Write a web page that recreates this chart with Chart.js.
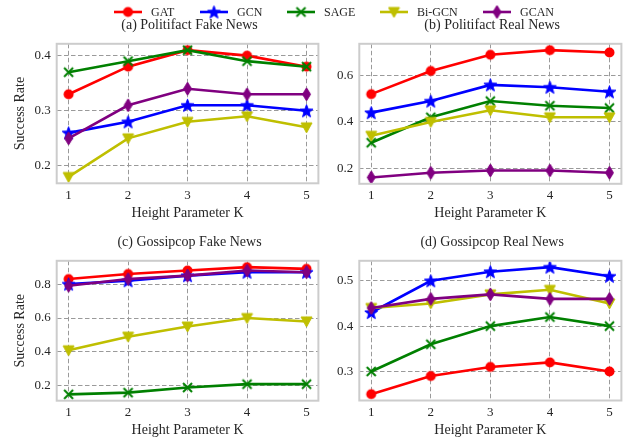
<!DOCTYPE html>
<html><head><meta charset="utf-8">
<script src="https://cdn.jsdelivr.net/npm/chart.js@4.4.0/dist/chart.umd.min.js"></script>
<style>
html,body{margin:0;padding:0;background:#fff;}
body{width:629px;height:442px;position:relative;overflow:hidden;font-family:"Liberation Serif","Times New Roman",serif;color:#262626;}
canvas.cv{position:absolute;}
.ttl{position:absolute;font-size:14px;white-space:nowrap;transform:translate(-50%,-50%);line-height:1;}
.legtxt{position:absolute;font-size:12px;white-space:nowrap;line-height:1;transform:translateY(-50%);}
.legmk{position:absolute;}
</style></head><body>
<script>
// ---------- data ----------
const kValues = [1, 2, 3, 4, 5];
const xTicks = [1, 2, 3, 4, 5];
const seriesNames = ['GAT', 'GCN', 'SAGE', 'Bi-GCN', 'GCAN'];

// (a) Politifact Fake News
const pfFakeGAT   = [0.33, 0.38, 0.41, 0.40, 0.38];
const pfFakeGCN   = [0.26, 0.28, 0.31, 0.31, 0.30];
const pfFakeSAGE  = [0.37, 0.39, 0.41, 0.39, 0.38];
const pfFakeBiGCN = [0.18, 0.25, 0.28, 0.29, 0.27];
const pfFakeGCAN  = [0.25, 0.31, 0.34, 0.33, 0.33];
const yTicksA = [0.2, 0.3, 0.4];

// (b) Politifact Real News
const pfRealGAT   = [0.52, 0.62, 0.69, 0.71, 0.70];
const pfRealGCN   = [0.44, 0.49, 0.56, 0.55, 0.53];
const pfRealSAGE  = [0.31, 0.42, 0.49, 0.47, 0.46];
const pfRealBiGCN = [0.34, 0.40, 0.45, 0.42, 0.42];
const pfRealGCAN  = [0.16, 0.18, 0.19, 0.19, 0.18];
const yTicksB = [0.2, 0.4, 0.6];

// (c) Gossipcop Fake News
const gcFakeGAT   = [0.83, 0.86, 0.88, 0.90, 0.89];
const gcFakeGCN   = [0.80, 0.82, 0.85, 0.87, 0.87];
const gcFakeSAGE  = [0.15, 0.16, 0.19, 0.21, 0.21];
const gcFakeBiGCN = [0.41, 0.49, 0.55, 0.60, 0.58];
const gcFakeGCAN  = [0.79, 0.83, 0.85, 0.88, 0.87];
const yTicksC = [0.2, 0.4, 0.6, 0.8];

// (d) Gossipcop Real News
const gcRealGAT   = [0.25, 0.29, 0.31, 0.32, 0.30];
const gcRealGCN   = [0.43, 0.50, 0.52, 0.53, 0.51];
const gcRealSAGE  = [0.30, 0.36, 0.40, 0.42, 0.40];
const gcRealBiGCN = [0.44, 0.45, 0.47, 0.48, 0.45];
const gcRealGCAN  = [0.44, 0.46, 0.47, 0.46, 0.46];
const yTicksD = [0.3, 0.4, 0.5];

const titleA = '(a) Politifact Fake News';
const titleB = '(b) Politifact Real News';
const titleC = '(c) Gossipcop Fake News';
const titleD = '(d) Gossipcop Real News';
const xAxisTitle = 'Height Parameter K';
const yAxisTitle = 'Success Rate';

// ---------- styles ----------
const FONT = '"Liberation Serif","Times New Roman",serif';
const TXT = '#262626';
const colors = ['#ff0000', '#0000ff', '#008000', '#bfbf00', '#800080'];

function mk(w, h, draw) {
  const c = document.createElement('canvas');
  c.width = w; c.height = h;
  draw(c.getContext('2d'), w / 2, h / 2);
  return c;
}
const starImg = mk(15, 15, (g, cx, cy) => {
  g.beginPath();
  for (let i = 0; i < 10; i++) {
    const r = i % 2 === 0 ? 6.8 : 2.8;
    const a = -Math.PI / 2 + i * Math.PI / 5;
    const px = cx + r * Math.cos(a), py = cy + 0.6 + r * Math.sin(a);
    i === 0 ? g.moveTo(px, py) : g.lineTo(px, py);
  }
  g.closePath(); g.fillStyle = colors[1]; g.fill();
  g.lineWidth = 1; g.strokeStyle = colors[1]; g.stroke();
});
const triImg = mk(13, 13, (g, cx, cy) => {
  g.beginPath();
  g.moveTo(cx - 5.5, cy - 4.5); g.lineTo(cx + 5.5, cy - 4.5); g.lineTo(cx, cy + 5.5);
  g.closePath(); g.fillStyle = colors[3]; g.fill();
  g.lineWidth = 1; g.strokeStyle = colors[3]; g.stroke();
});
const diaImg = mk(11, 15, (g, cx, cy) => {
  g.beginPath();
  g.moveTo(cx, cy - 6.5); g.lineTo(cx + 4, cy); g.lineTo(cx, cy + 6.5); g.lineTo(cx - 4, cy);
  g.closePath(); g.fillStyle = colors[4]; g.fill();
  g.lineWidth = 1; g.strokeStyle = colors[4]; g.stroke();
});
const circImg = mk(13, 13, (g, cx, cy) => {
  g.beginPath(); g.arc(cx, cy, 5, 0, Math.PI * 2);
  g.fillStyle = colors[0]; g.fill();
});
const xImg = mk(13, 13, (g, cx, cy) => {
  g.beginPath();
  g.moveTo(cx - 4.5, cy - 4.5); g.lineTo(cx + 4.5, cy + 4.5);
  g.moveTo(cx + 4.5, cy - 4.5); g.lineTo(cx - 4.5, cy + 4.5);
  g.lineWidth = 2; g.strokeStyle = colors[2]; g.stroke();
});
const markerImgs = [circImg, starImg, xImg, triImg, diaImg];

const framePlugin = {
  id: 'frame',
  afterDatasetsDraw(chart) {
    const a = chart.chartArea, ctx = chart.ctx;
    ctx.save();
    ctx.strokeStyle = '#cccccc'; ctx.lineWidth = 2;
    ctx.strokeRect(a.left, a.top, a.right - a.left, a.bottom - a.top);
    ctx.restore();
  }
};

function buildDatasets(seriesArrays) {
  return seriesArrays.map((vals, i) => ({
    label: seriesNames[i],
    data: kValues.map((k, j) => ({ x: k, y: vals[j] })),
    borderColor: colors[i],
    backgroundColor: colors[i],
    borderWidth: 2.6,
    pointStyle: markerImgs[i],
    pointRadius: 5,
    pointHoverRadius: 5,
    tension: 0,
    clip: false,
    order: 5 - i
  }));
}

function autoRange(seriesArrays) {
  const all = seriesArrays.flat();
  const lo = Math.min(...all), hi = Math.max(...all);
  const m = (hi - lo) * 0.05;
  return [lo - m, hi + m];
}

function panel(box, plot, seriesArrays, yTicks, showYTitle, xTitlePad) {
  const c = document.createElement('canvas');
  c.className = 'cv';
  c.width = box.w; c.height = box.h;
  c.style.left = box.l + 'px'; c.style.top = box.t + 'px';
  c.style.width = box.w + 'px'; c.style.height = box.h + 'px';
  document.body.appendChild(c);
  const [ymin, ymax] = autoRange(seriesArrays);
  new Chart(c, {
    type: 'line',
    data: { datasets: buildDatasets(seriesArrays) },
    plugins: [framePlugin],
    options: {
      responsive: false, animation: false, devicePixelRatio: 1,
      events: [],
      layout: { padding: { left: 0, top: plot.t - box.t, right: box.l + box.w - plot.r, bottom: 0 } },
      plugins: { legend: { display: false }, tooltip: { enabled: false } },
      scales: {
        x: {
          type: 'linear', min: 0.8, max: 5.2,
          afterBuildTicks: s => { s.ticks = xTicks.map(v => ({ value: v })); },
          afterFit: s => { s.height = box.t + box.h - plot.b; },
          grid: { color: '#9a9a9a', lineWidth: 1, drawTicks: false },
          border: { display: false, dash: [4.5, 2.5] },
          ticks: { padding: 4, autoSkip: false, maxRotation: 0, color: TXT,
                   font: { family: FONT, size: 13 }, callback: v => String(v) },
          title: { display: true, text: xAxisTitle, color: TXT,
                   font: { family: FONT, size: 14 }, padding: { top: 0, bottom: xTitlePad } }
        },
        y: {
          type: 'linear', min: ymin, max: ymax,
          afterBuildTicks: s => { s.ticks = yTicks.map(v => ({ value: v })); },
          afterFit: s => { s.width = plot.l - box.l; },
          grid: { color: '#9a9a9a', lineWidth: 1, drawTicks: false },
          border: { display: false, dash: [4.5, 2.5] },
          ticks: { padding: 6, autoSkip: false, color: TXT,
                   font: { family: FONT, size: 13 }, callback: v => v.toFixed(1) },
          title: { display: showYTitle, text: yAxisTitle, color: TXT,
                   font: { family: FONT, size: 14 }, padding: { top: 11.6, bottom: 0 } }
        }
      }
    }
  });
}

function addTitle(text, cx, cy) {
  const d = document.createElement('div');
  d.className = 'ttl'; d.textContent = text;
  d.style.left = cx + 'px'; d.style.top = cy + 'px';
  document.body.appendChild(d);
}

panel({ l: 0, t: 30, w: 326, h: 200 }, { l: 56.7, t: 40, r: 322.3, b: 183.3 },
      [pfFakeGAT, pfFakeGCN, pfFakeSAGE, pfFakeBiGCN, pfFakeGCAN], yTicksA, true, 8.6);
panel({ l: 310, t: 30, w: 319, h: 200 }, { l: 359.3, t: 40, r: 625, b: 183.8 },
      [pfRealGAT, pfRealGCN, pfRealSAGE, pfRealBiGCN, pfRealGCAN], yTicksB, false, 8.6);
panel({ l: 0, t: 247, w: 326, h: 195 }, { l: 56.7, t: 256.7, r: 322.3, b: 400.7 },
      [gcFakeGAT, gcFakeGCN, gcFakeSAGE, gcFakeBiGCN, gcFakeGCAN], yTicksC, true, 3.6);
panel({ l: 310, t: 247, w: 319, h: 195 }, { l: 359.3, t: 257, r: 625, b: 400.5 },
      [gcRealGAT, gcRealGCN, gcRealSAGE, gcRealBiGCN, gcRealGCAN], yTicksD, false, 3.6);

addTitle(titleA, 189.5, 25);
addTitle(titleB, 492.2, 25);
addTitle(titleC, 189.5, 241.7);
addTitle(titleD, 492.2, 241.7);

// legend
const legLineX = [114, 200, 287, 380, 483];
const legCY = 12.3;
seriesNames.forEach((name, i) => {
  const m = document.createElement('canvas');
  m.className = 'legmk'; m.width = 30; m.height = 16;
  m.style.left = (legLineX[i] - 1) + 'px'; m.style.top = (legCY - 8) + 'px';
  const g = m.getContext('2d');
  g.beginPath(); g.moveTo(1, 8); g.lineTo(29, 8);
  g.lineWidth = 2.6; g.strokeStyle = colors[i]; g.stroke();
  const img = markerImgs[i];
  g.drawImage(img, 15 - img.width / 2, 8 - img.height / 2);
  document.body.appendChild(m);
  const t = document.createElement('div');
  t.className = 'legtxt'; t.textContent = name;
  t.style.left = (legLineX[i] + 37) + 'px'; t.style.top = legCY + 'px';
  document.body.appendChild(t);
});
</script>
</body></html>
